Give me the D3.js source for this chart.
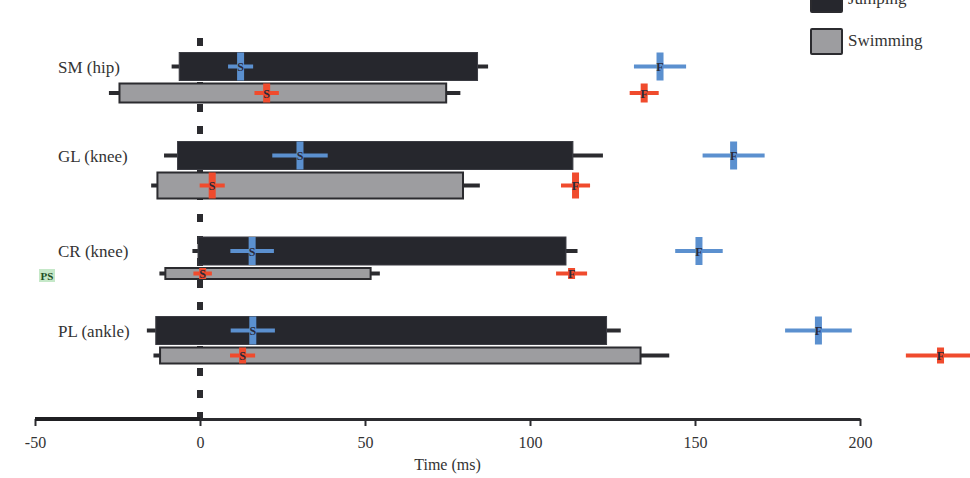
<!DOCTYPE html>
<html>
<head>
<meta charset="utf-8">
<script src="https://cdn.jsdelivr.net/npm/d3@7"></script>
<style>
  body { margin: 0; background: #fff; }
  svg { display: block; font-family: "Liberation Serif", "Times New Roman", serif; }
</style>
</head>
<body>
<svg id="chart"></svg>
<script>
// Muscles (rows)
const muscles = ["SM (hip)", "GL (knee)", "CR (knee)", "PL (ankle)"];

// Activity bars: onset / offset (ms) with error whiskers
const jumpOnset = [-6.3, -6.8, -0.6, -13.4];
const jumpOffset = [84.1, 113.0, 110.9, 123.2];
const jumpOnsetErr = [2.3, 4.1, 1.7, 2.7];
const jumpOffsetErr = [3.2, 9.1, 3.5, 4.3];

const swimOnset = [-24.4, -12.9, -10.5, -12.1];
const swimOffset = [74.6, 79.7, 51.7, 133.5];
const swimOnsetErr = [3.2, 1.9, 1.8, 2.0];
const swimOffsetErr = [4.3, 5.1, 2.8, 8.7];

// Start (S) and finish (F) markers with spread
const jumpStart = [12.3, 30.3, 15.8, 16.0];
const jumpStartErr = [3.8, 8.4, 6.6, 6.7];
const jumpFinish = [139.4, 161.7, 151.2, 187.4];
const jumpFinishErr = [7.9, 9.4, 7.2, 10.1];

const swimStart = [20.2, 3.7, 0.8, 12.9];
const swimStartErr = [3.7, 3.8, 2.8, 3.8];
const swimFinish = [134.6, 113.8, 112.6, 224.4];
const swimFinishErr = [4.4, 4.4, 4.7, 10.5];

const xTicks = [-50, 0, 50, 100, 150, 200];

// Layout
const width = 970, height = 478;
const svg = d3.select("#chart").attr("width", width).attr("height", height);

const x = d3.scaleLinear().domain([-50, 200]).range([35, 860]);
const yRow = d3.scaleOrdinal().domain(muscles).range([66.5, 155.5, 251, 330.5]);
const jumpH = 28;
const swimH = d3.scaleOrdinal().domain(muscles).range([19, 26, 11, 16]);
const gap = 3;

const jumpFill = "#26272d", swimFill = "#9d9da0", dark = "#2b2b2f";
const blue = "#5b90cf", red = "#f04b2d";
const textCol = "#333";

const rows = muscles.map((m, i) => ({
  m,
  jumpY: yRow(m),
  swimY: yRow(m) + jumpH / 2 + gap + swimH(m) / 2,
  swimH: swimH(m),
  i
}));

// Dashed zero line (behind bars)
svg.append("line")
  .attr("x1", x(0)).attr("x2", x(0))
  .attr("y1", 38).attr("y2", 418)
  .attr("stroke", dark).attr("stroke-width", 6)
  .attr("stroke-dasharray", "8,14");

// Whiskers
function whiskers(on, off, onErr, offErr, yKey) {
  svg.append("g").selectAll("line.w1").data(rows).join("line")
    .attr("x1", d => x(on[d.i] - onErr[d.i])).attr("x2", d => x(on[d.i]))
    .attr("y1", d => d[yKey]).attr("y2", d => d[yKey])
    .attr("stroke", dark).attr("stroke-width", 4);
  svg.append("g").selectAll("line.w2").data(rows).join("line")
    .attr("x1", d => x(off[d.i])).attr("x2", d => x(off[d.i] + offErr[d.i]))
    .attr("y1", d => d[yKey]).attr("y2", d => d[yKey])
    .attr("stroke", dark).attr("stroke-width", 4);
}
whiskers(jumpOnset, jumpOffset, jumpOnsetErr, jumpOffsetErr, "jumpY");
whiskers(swimOnset, swimOffset, swimOnsetErr, swimOffsetErr, "swimY");

// Bars
svg.append("g").selectAll("rect").data(rows).join("rect")
  .attr("x", d => x(jumpOnset[d.i]))
  .attr("width", d => x(jumpOffset[d.i]) - x(jumpOnset[d.i]))
  .attr("y", d => d.jumpY - jumpH / 2)
  .attr("height", jumpH)
  .attr("fill", jumpFill).attr("stroke", "#3a3b42").attr("stroke-width", 1);

svg.append("g").selectAll("rect").data(rows).join("rect")
  .attr("x", d => x(swimOnset[d.i]))
  .attr("width", d => x(swimOffset[d.i]) - x(swimOnset[d.i]))
  .attr("y", d => d.swimY - d.swimH / 2)
  .attr("height", d => d.swimH)
  .attr("fill", swimFill).attr("stroke", dark).attr("stroke-width", 2);

// S / F markers
function markers(vals, errs, yKey, hKey, color, label) {
  const g = svg.append("g").selectAll("g").data(rows).join("g");
  g.append("line")
    .attr("x1", d => x(vals[d.i] - errs[d.i])).attr("x2", d => x(vals[d.i] + errs[d.i]))
    .attr("y1", d => d[yKey]).attr("y2", d => d[yKey])
    .attr("stroke", color).attr("stroke-width", 4);
  g.append("rect")
    .attr("x", d => x(vals[d.i]) - 3.5).attr("width", 7)
    .attr("y", d => d[yKey] - (hKey ? d[hKey] : jumpH) / 2)
    .attr("height", d => hKey ? d[hKey] : jumpH)
    .attr("fill", color);
  g.append("text")
    .attr("x", d => x(vals[d.i])).attr("y", d => d[yKey] + 4.5)
    .attr("text-anchor", "middle")
    .attr("font-size", 12).attr("font-weight", "bold")
    .attr("fill", "#2a2a3a")
    .text(label);
}
markers(jumpStart, jumpStartErr, "jumpY", null, blue, "S");
markers(jumpFinish, jumpFinishErr, "jumpY", null, blue, "F");
markers(swimStart, swimStartErr, "swimY", "swimH", red, "S");
markers(swimFinish, swimFinishErr, "swimY", "swimH", red, "F");

// Row labels
svg.append("g").selectAll("text").data(rows).join("text")
  .attr("x", 58).attr("y", d => d.jumpY + 6)
  .attr("font-size", 17).attr("fill", textCol)
  .text(d => d.m);

// PS tag
svg.append("rect").attr("x", 39).attr("y", 269).attr("width", 16).attr("height", 13).attr("fill", "#c5e8c8");
svg.append("text").attr("x", 47).attr("y", 280).attr("text-anchor", "middle")
  .attr("font-size", 11).attr("font-weight", "bold").attr("fill", "#1f4f24").text("PS");

// Axis
const axis = svg.append("g")
  .attr("transform", "translate(0,419)")
  .call(d3.axisBottom(x).tickValues(xTicks).tickSize(7).tickSizeOuter(0).tickFormat(d => String(d)));
axis.select(".domain").attr("stroke", dark).attr("stroke-width", 3);
axis.selectAll(".tick line").attr("stroke", dark).attr("stroke-width", 2);
axis.selectAll(".tick text")
  .attr("font-family", "Liberation Serif, Times New Roman, serif")
  .attr("font-size", 16).attr("fill", textCol).attr("dy", "1.2em");

// thicker left segment of the axis
svg.append("line")
  .attr("x1", x(-50)).attr("x2", x(0)).attr("y1", 419).attr("y2", 419)
  .attr("stroke", "#1f1f22").attr("stroke-width", 4);

svg.append("text")
  .attr("x", (x(-50) + x(200)) / 2).attr("y", 470)
  .attr("text-anchor", "middle").attr("font-size", 16).attr("fill", textCol)
  .text("Time (ms)");

// Legend
const legend = [
  { label: "Jumping", fill: jumpFill, y: -13 },
  { label: "Swimming", fill: swimFill, y: 29 }
];
const lg = svg.append("g").selectAll("g").data(legend).join("g");
lg.append("rect")
  .attr("x", 811).attr("y", d => d.y).attr("width", 31).attr("height", 25)
  .attr("fill", d => d.fill).attr("stroke", dark).attr("stroke-width", 2).attr("rx", 1);
lg.append("text")
  .attr("x", 848).attr("y", d => d.y + 17)
  .attr("font-size", 17).attr("fill", textCol)
  .text(d => d.label);
</script>
</body>
</html>
